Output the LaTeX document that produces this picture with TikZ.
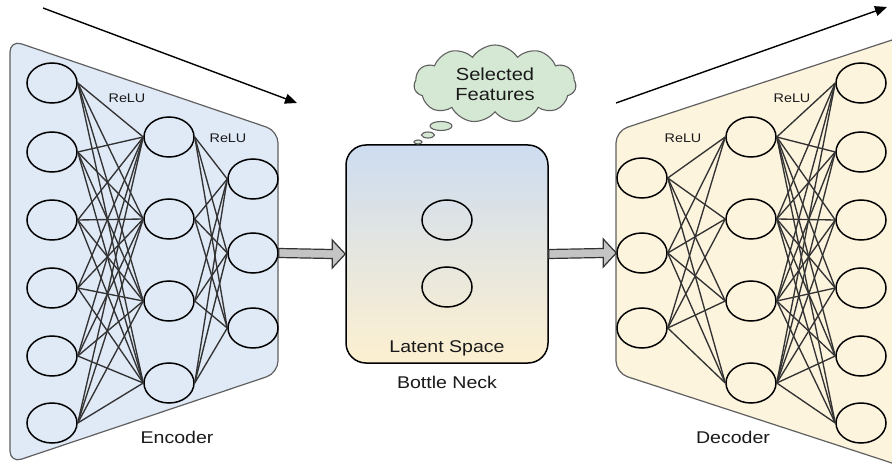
\documentclass[tikz,border=0pt]{standalone}
\usepackage{fontspec}
\usepackage{graphicx}
\setmainfont{Liberation Sans}
\usetikzlibrary{shapes.geometric,shapes.symbols,calc,arrows.meta}
\definecolor{encfill}{HTML}{E0E9F6}
\definecolor{decfill}{HTML}{FDF4DE}
\definecolor{panelline}{HTML}{606060}
\definecolor{edgec}{HTML}{333333}
\definecolor{bntop}{HTML}{CDDCF0}
\definecolor{bnbot}{HTML}{FDF0D0}
\definecolor{cloudc}{HTML}{D5E8D4}
\definecolor{blkfill}{HTML}{C4C4C4}
\definecolor{txtc}{HTML}{1A1A1A}
\newcommand\sxt[1]{\scalebox{1.15}[1]{#1}}
\begin{document}
\begin{tikzpicture}[x=1pt,y=-1pt,
  neuron/.style={ellipse,draw=black,line width=1.5pt,minimum width=50pt,minimum height=40pt,inner sep=0pt},
  edge/.style={draw=edgec,line width=1.35pt},
  panel/.style={draw=panelline,line width=1.2pt,rounded corners=12pt},
  relu/.style={font=\fontsize{12.5}{14}\selectfont,text=txtc,inner sep=0pt},
  biglbl/.style={font=\fontsize{17}{20}\selectfont,text=txtc,inner sep=0pt},
  blk/.style={draw=edgec,fill=blkfill,line width=1.2pt,line join=miter},
  flow/.style={draw=black,line width=1.4pt,-{Triangle[length=12pt,width=10pt]}},
  bubble/.style={ellipse,draw=panelline,fill=cloudc,line width=1.1pt,inner sep=0pt}
]
\clip (0,0) rectangle (892,468);
\fill[white] (0,0) rectangle (892,468);
% panels
\draw[panel,fill=encfill] (10,40) -- (278,131) -- (278,373) -- (10,463) -- cycle;
\draw[panel,fill=decfill] (616,131) -- (892,40) -- (930,28) -- (930,476) -- (892,463) -- (616,373) -- cycle;
% encoder neurons
\foreach \i/\y in {1/83,2/152,3/220,4/288,5/356,6/423} \node[neuron] (e1-\i) at (52,\y) {};
\foreach \i/\y in {1/137,2/219,3/301,4/383} \node[neuron] (e2-\i) at (169,\y) {};
\foreach \i/\y in {1/179,2/253,3/328} \node[neuron] (e3-\i) at (253,\y) {};
% decoder neurons
\foreach \i/\y in {1/178,2/253,3/328} \node[neuron] (d1-\i) at (642,\y) {};
\foreach \i/\y in {1/137,2/219,3/301,4/383} \node[neuron] (d2-\i) at (751,\y) {};
\foreach \i/\y in {1/83,2/152,3/220,4/288,5/356,6/423} \node[neuron] (d3-\i) at (861,\y) {};
% edges
\foreach \i in {1,...,6} \foreach \j in {1,...,4} \draw[edge] (e1-\i.east) -- (e2-\j.west);
\foreach \i in {1,...,4} \foreach \j in {1,...,3} \draw[edge] (e2-\i.east) -- (e3-\j.west);
\foreach \i in {1,...,3} \foreach \j in {1,...,4} \draw[edge] (d1-\i.east) -- (d2-\j.west);
\foreach \i in {1,...,4} \foreach \j in {1,...,6} \draw[edge] (d2-\i.east) -- (d3-\j.west);
% bottleneck
\node[draw=black,line width=1.5pt,rounded corners=20pt,top color=bntop,bottom color=bnbot,minimum width=202pt,minimum height=218pt,inner sep=0pt] (bn) at (447,254) {};
\node[neuron] (b1) at (447,220) {};
\node[neuron] (b2) at (447,287) {};
\node[biglbl] (lat) at (447,348) {\sxt{Latent Space}};
\node[biglbl] (bnl) at (447,382) {\sxt{Bottle Neck}};
% cloud
\node[cloud,cloud puffs=11,cloud puff arc=115,aspect=2.1,draw=panelline,fill=cloudc,line width=1.1pt,minimum width=162pt,minimum height=78pt,inner sep=0pt,align=center,font=\fontsize{17.5}{20}\selectfont,text=txtc] (cl) at (495,84) {\sxt{Selected}\\\sxt{Features}};
\node[bubble,minimum width=22pt,minimum height=9pt] (bb1) at (441,126) {};
\node[bubble,minimum width=13pt,minimum height=6pt] (bb2) at (428,135) {};
\node[bubble,minimum width=8pt,minimum height=4pt] (bb3) at (418,142) {};
% block arrows
\coordinate (a1) at (e3-2.east);
\coordinate (a2) at (bn.west);
\draw[blk] ($(a1)+(0,-4.5)$) -- ($(a2)+(-13,-4.5)$) -- ($(a2)+(-13,-14)$) -- (a2) -- ($(a2)+(-13,14)$) -- ($(a2)+(-13,4.5)$) -- ($(a1)+(0,4.5)$) -- cycle;
\coordinate (c1) at (bn.east);
\coordinate (c2) at (d1-2.west);
\draw[blk] ($(c1)+(0,-4.5)$) -- ($(c2)+(-13,-4.5)$) -- ($(c2)+(-13,-14)$) -- (c2) -- ($(c2)+(-13,14)$) -- ($(c2)+(-13,4.5)$) -- ($(c1)+(0,4.5)$) -- cycle;
% flow arrows
\coordinate (f1s) at (43,8);
\coordinate (f1e) at (297,103);
\draw[flow] (f1s) -- (f1e);
\coordinate (f2s) at (616,103);
\coordinate (f2e) at (887,7);
\draw[flow] (f2s) -- (f2e);
% labels
\node[relu] (r1) at (127,98) {\sxt{ReLU}};
\node[relu] (r2) at (228,138) {\sxt{ReLU}};
\node[relu] (r3) at (683,138) {\sxt{ReLU}};
\node[relu] (r4) at (792,98) {\sxt{ReLU}};
\node[biglbl] (encl) at (177,437) {\sxt{Encoder}};
\node[biglbl] (decl) at (733,437) {\sxt{Decoder}};
\end{tikzpicture}
\end{document}
